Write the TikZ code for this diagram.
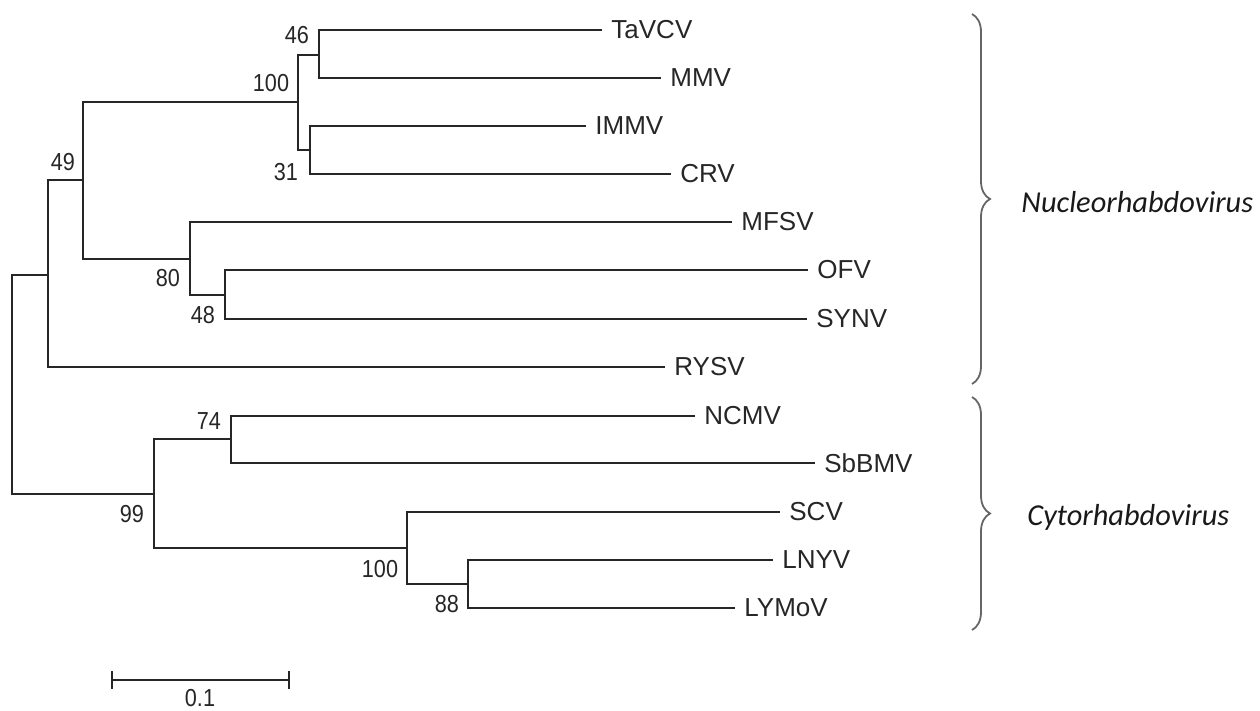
\documentclass[tikz,border=0pt]{standalone}
\usepackage{fontspec}
\setmainfont{Liberation Sans}
\newfontfamily\genusfont{Carlito}
\newfontfamily\bootfont{Liberation Sans}[FakeStretch=0.88]
\usetikzlibrary{decorations.pathreplacing}
\begin{document}
\begin{tikzpicture}[x=0.5pt,y=-0.5pt,
  branch/.style={draw=black!85, line width=1.15pt},
  leaf/.style={anchor=west, inner xsep=4.5pt, inner ysep=0pt, font=\fontsize{13pt}{15pt}\selectfont, text=black!85},
  boot/.style={inner sep=0pt, font=\bootfont\fontsize{12.3pt}{14pt}\selectfont, text=black!85},
  genus/.style={anchor=west, inner sep=0pt, font=\genusfont\itshape\fontsize{15.2pt}{17pt}\selectfont, text=black!90},
  bracestyle/.style={draw=black!60, line width=0.9pt, decorate, decoration={brace, amplitude=9pt}}
]
\useasboundingbox (0,0) rectangle (1260,711);
% internal nodes
\coordinate (root) at (12,384);
\coordinate (n49) at (48,275);
\coordinate (nA) at (83,180);
\coordinate (n100) at (298,102);
\coordinate (n46) at (319,55);
\coordinate (n31) at (310,150);
\coordinate (n80) at (190,259);
\coordinate (n48) at (225,295);
\coordinate (n99) at (154,494);
\coordinate (n74) at (231,439);
\coordinate (n100b) at (407,548);
\coordinate (n88) at (468,584);
% leaves
\node[leaf] (TaVCV) at (602,30) {TaVCV};
\node[leaf] (MMV) at (661,78) {MMV};
\node[leaf] (IMMV) at (586,126) {IMMV};
\node[leaf] (CRV) at (671,174) {CRV};
\node[leaf] (MFSV) at (732,222) {MFSV};
\node[leaf] (OFV) at (808,270) {OFV};
\node[leaf] (SYNV) at (807,319) {SYNV};
\node[leaf] (RYSV) at (665,367) {RYSV};
\node[leaf] (NCMV) at (695,416) {NCMV};
\node[leaf] (SbBMV) at (815,463) {SbBMV};
\node[leaf] (SCV) at (780,512) {SCV};
\node[leaf] (LNYV) at (773,560) {LNYV};
\node[leaf] (LYMoV) at (735,608) {LYMoV};
% branches
\draw[branch] (root) |- (n49);
\draw[branch] (root) |- (n99);
\draw[branch] (n49) |- (nA);
\draw[branch] (n49) |- (RYSV.west);
\draw[branch] (nA) |- (n100);
\draw[branch] (nA) |- (n80);
\draw[branch] (n100) |- (n46);
\draw[branch] (n100) |- (n31);
\draw[branch] (n46) |- (TaVCV.west);
\draw[branch] (n46) |- (MMV.west);
\draw[branch] (n31) |- (IMMV.west);
\draw[branch] (n31) |- (CRV.west);
\draw[branch] (n80) |- (MFSV.west);
\draw[branch] (n80) |- (n48);
\draw[branch] (n48) |- (OFV.west);
\draw[branch] (n48) |- (SYNV.west);
\draw[branch] (n99) |- (n74);
\draw[branch] (n99) |- (n100b);
\draw[branch] (n74) |- (NCMV.west);
\draw[branch] (n74) |- (SbBMV.west);
\draw[branch] (n100b) |- (SCV.west);
\draw[branch] (n100b) |- (n88);
\draw[branch] (n88) |- (LNYV.west);
\draw[branch] (n88) |- (LYMoV.west);
% bootstrap values
\node[boot] (b46) at (297,35) {46};
\node[boot] (b100) at (271,83) {100};
\node[boot] (b49) at (63,162) {49};
\node[boot] (b31) at (286,172) {31};
\node[boot] (b80) at (168,278) {80};
\node[boot] (b48) at (203,315) {48};
\node[boot] (b74) at (209,421) {74};
\node[boot] (b99) at (132,514) {99};
\node[boot] (b100b) at (380,569) {100};
\node[boot] (b88) at (447,604) {88};
% scale bar
\coordinate (sL) at (112,680);
\coordinate (sR) at (289,680);
\draw[branch] (sL) -- (sR);
\draw[branch] ([yshift=4.5pt]sL) -- ([yshift=-4.5pt]sL);
\draw[branch] ([yshift=4.5pt]sR) -- ([yshift=-4.5pt]sR);
\node[boot] (scale) at (200,698) {0.1};
% braces
\coordinate (nucTop) at (972,14);
\coordinate (nucBot) at (972,384);
\coordinate (cytTop) at (972,397);
\coordinate (cytBot) at (972,630);
\draw[bracestyle] (nucTop) -- (nucBot);
\draw[bracestyle] (cytTop) -- (cytBot);
\node[genus] (nuc) at (1021,202) {Nucleorhabdovirus};
\node[genus] (cyt) at (1027,517) {Cytorhabdovirus};
\end{tikzpicture}
\end{document}
